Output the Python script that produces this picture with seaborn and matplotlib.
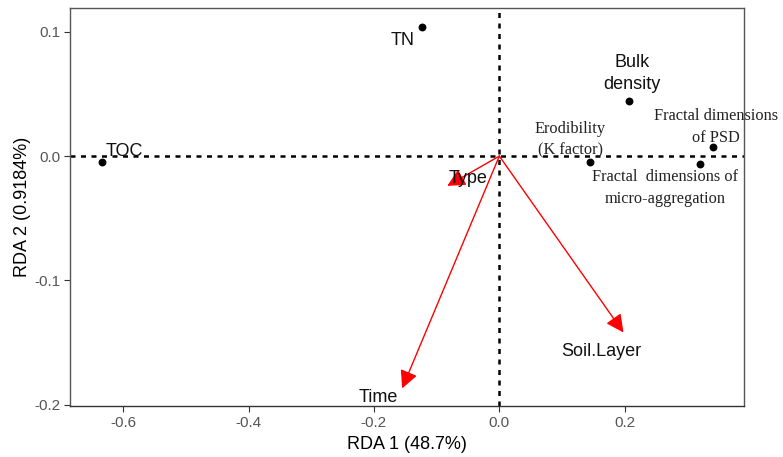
import matplotlib
matplotlib.use("Agg")
import matplotlib.pyplot as plt
import seaborn as sns
import pandas as pd

# Response variables (points)
var_names = ["TOC", "TN", "Bulk density", "Fractal dimensions of PSD",
             "Erodibility (K factor)", "Fractal dimensions of micro-aggregation"]
var_x = [-0.634, -0.124, 0.207, 0.341, 0.145, 0.320]
var_y = [-0.005, 0.104, 0.044, 0.007, -0.005, -0.006]

# Explanatory variables (arrows)
env_names = ["Type", "Time", "Soil.Layer"]
env_x = [-0.083, -0.155, 0.198]
env_y = [-0.024, -0.187, -0.142]

sns.set_theme(style="white")
plt.rcParams['font.family'] = ['Liberation Sans', 'DejaVu Sans']

fig, ax = plt.subplots(figsize=(7.83, 4.57), dpi=100)
fig.subplots_adjust(left=0.09, right=0.95, top=0.982, bottom=0.112)

ax.axhline(0, color="black", lw=1.8, ls=(0, (2.0, 2.2)), zorder=1)
ax.axvline(0, color="black", lw=1.8, ls=(0, (2.0, 2.2)), zorder=1)

df = pd.DataFrame({"x": var_x, "y": var_y, "name": var_names})
sns.scatterplot(data=df, x="x", y="y", color="black", s=32, edgecolor="black",
                linewidth=0, ax=ax, zorder=3, legend=False)

for ex, ey in zip(env_x, env_y):
    ax.annotate("", xy=(ex, ey), xytext=(0, 0),
                arrowprops=dict(arrowstyle="-|>,head_length=0.9,head_width=0.45",
                                color="red", lw=1.0, shrinkA=0, shrinkB=0),
                zorder=2)

sans = dict(fontsize=13, color="#111111", family=['Liberation Sans', 'DejaVu Sans'])
serif = dict(fontsize=11.8, color="#222222", family=['Liberation Serif', 'DejaVu Serif'])

ax.text(var_x[0] + 0.006, 0.004, "TOC", ha="left", va="center", **sans)
ax.text(var_x[1] - 0.030, 0.093, "TN", ha="center", va="center", **sans)
ax.text(0.212, 0.0665, "Bulk\ndensity", ha="center", va="center", linespacing=1.45, **sans)
ax.text(0.346, 0.0235, "Fractal dimensions\nof PSD", ha="center", va="center", linespacing=1.45, **serif)
ax.text(0.113, 0.0135, "Erodibility\n(K factor)", ha="center", va="center", linespacing=1.45, **serif)
ax.text(0.265, -0.0257, "Fractal  dimensions of\nmicro-aggregation", ha="center", va="center", linespacing=1.45, **serif)

ax.text(-0.050, -0.018, "Type", ha="center", va="center", **sans)
ax.text(-0.193, -0.194, "Time", ha="center", va="center", **sans)
ax.text(0.162, -0.157, "Soil.Layer", ha="center", va="center", **sans)

ax.set_xlim(-0.684, 0.390)
ax.set_ylim(-0.201, 0.119)
ax.set_xticks([-0.6, -0.4, -0.2, 0.0, 0.2])
ax.set_xticklabels(["-0.6", "-0.4", "-0.2", "0.0", "0.2"])
ax.set_yticks([-0.2, -0.1, 0.0, 0.1])
ax.set_yticklabels(["-0.2", "-0.1", "0.0", "0.1"])
ax.set_xlabel("RDA 1 (48.7%)", fontsize=13, color="black", labelpad=4)
ax.set_ylabel("RDA 2 (0.9184%)", fontsize=13, color="black", labelpad=2)

ax.tick_params(axis="both", which="both", length=4, width=0.8, color="#333333",
               labelsize=11, labelcolor="#555555", direction="out",
               bottom=True, left=True)
for side, sp in ax.spines.items():
    sp.set_visible(True)
    sp.set_linewidth(1.0)
    sp.set_color("#555555")
ax.spines["bottom"].set_color("#333333")
ax.spines["left"].set_color("#555555")

fig.savefig("out.png", dpi=100)
